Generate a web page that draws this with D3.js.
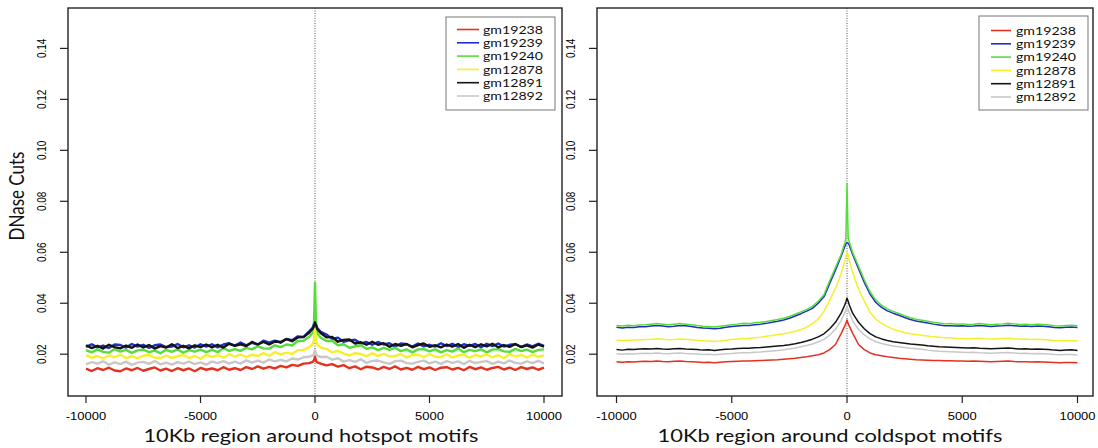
<!DOCTYPE html>
<html><head><meta charset="utf-8">
<script src="https://cdn.jsdelivr.net/npm/d3@7"></script>
<style>body{margin:0;background:#fff;} svg{display:block;}</style>
</head><body>
<svg id="chart" width="1098" height="448"></svg>
<script>
// ---------- DATA ----------
const positions = [-10000,-9750,-9500,-9250,-9000,-8750,-8500,-8250,-8000,-7750,-7500,-7250,-7000,-6750,-6500,-6250,-6000,-5750,-5500,-5250,-5000,-4750,-4500,-4250,-4000,-3750,-3500,-3250,-3000,-2750,-2500,-2250,-2000,-1750,-1500,-1250,-1000,-750,-500,-250,-100,-50,0,50,100,250,500,750,1000,1250,1500,1750,2000,2250,2500,2750,3000,3250,3500,3750,4000,4250,4500,4750,5000,5250,5500,5750,6000,6250,6500,6750,7000,7250,7500,7750,8000,8250,8500,8750,9000,9250,9500,9750,10000];

const sampleNames = ["gm19238","gm19239","gm19240","gm12878","gm12891","gm12892"];

// hotspot panel
const hot_gm19238 = [0.0143,0.0134,0.0145,0.0138,0.0147,0.0136,0.0133,0.0144,0.0137,0.0146,0.0135,0.0142,0.0148,0.0136,0.0143,0.0134,0.0145,0.0137,0.0144,0.0133,0.0146,0.0139,0.0144,0.0137,0.0149,0.0139,0.0145,0.0138,0.0149,0.0142,0.0152,0.0143,0.0150,0.0144,0.0154,0.0148,0.0158,0.0154,0.0163,
 0.0165,0.0170,0.0175,0.0190,0.0173,0.0168,0.0163,
 0.0156,0.0161,0.0151,0.0157,0.0145,0.0152,0.0141,0.0151,0.0148,0.0140,0.0150,0.0142,0.0152,0.0140,0.0146,0.0139,0.0150,0.0141,0.0148,0.0138,0.0147,0.0149,0.0140,0.0146,0.0137,0.0150,0.0141,0.0148,0.0139,0.0146,0.0150,0.0140,0.0147,0.0138,0.0149,0.0142,0.0148,0.0139,0.0147];
const hot_gm19239 = [0.0229,0.0239,0.0227,0.0234,0.0224,0.0238,0.0236,0.0226,0.0240,0.0230,0.0237,0.0225,0.0235,0.0238,0.0228,0.0230,0.0240,0.0227,0.0235,0.0226,0.0239,0.0230,0.0239,0.0227,0.0238,0.0243,0.0234,0.0246,0.0235,0.0245,0.0238,0.0253,0.0245,0.0253,0.0245,0.0260,0.0255,0.0270,0.0268,
 0.0290,0.0305,0.0318,0.0335,0.0315,0.0302,0.0288,
 0.0277,0.0260,0.0265,0.0249,0.0254,0.0257,0.0242,0.0248,0.0237,0.0248,0.0238,0.0243,0.0230,0.0242,0.0239,0.0230,0.0242,0.0231,0.0237,0.0230,0.0243,0.0232,0.0241,0.0228,0.0239,0.0233,0.0240,0.0227,0.0241,0.0232,0.0242,0.0230,0.0237,0.0239,0.0229,0.0238,0.0231,0.0241,0.0233];
const hot_gm19240 = [0.0216,0.0207,0.0219,0.0209,0.0206,0.0220,0.0210,0.0217,0.0205,0.0215,0.0218,0.0208,0.0214,0.0204,0.0217,0.0209,0.0219,0.0206,0.0216,0.0210,0.0218,0.0208,0.0217,0.0208,0.0224,0.0213,0.0220,0.0213,0.0225,0.0219,0.0231,0.0223,0.0222,0.0235,0.0228,0.0238,0.0234,0.0252,0.0253,
 0.0268,0.0285,0.0298,0.0480,0.0295,0.0282,0.0265,
 0.0252,0.0253,0.0235,0.0239,0.0225,0.0231,0.0235,0.0221,0.0227,0.0216,0.0225,0.0217,0.0225,0.0212,0.0219,0.0207,0.0219,0.0220,0.0211,0.0219,0.0207,0.0216,0.0210,0.0222,0.0208,0.0217,0.0212,0.0219,0.0207,0.0218,0.0220,0.0211,0.0209,0.0221,0.0212,0.0218,0.0208,0.0217,0.0219];
const hot_gm12878 = [0.0196,0.0186,0.0193,0.0183,0.0195,0.0188,0.0198,0.0185,0.0192,0.0184,0.0194,0.0197,0.0187,0.0184,0.0195,0.0186,0.0192,0.0197,0.0185,0.0193,0.0182,0.0197,0.0189,0.0196,0.0186,0.0200,0.0190,0.0199,0.0188,0.0198,0.0193,0.0204,0.0194,0.0208,0.0199,0.0206,0.0201,0.0216,0.0216,
 0.0228,0.0240,0.0255,0.0300,0.0252,0.0238,0.0226,
 0.0221,0.0207,0.0213,0.0202,0.0195,0.0204,0.0201,0.0192,0.0204,0.0193,0.0201,0.0191,0.0193,0.0200,0.0187,0.0196,0.0198,0.0188,0.0201,0.0190,0.0189,0.0199,0.0187,0.0195,0.0198,0.0186,0.0197,0.0191,0.0199,0.0188,0.0196,0.0185,0.0200,0.0191,0.0197,0.0187,0.0198,0.0190,0.0195];
const hot_gm12891 = [0.0235,0.0224,0.0233,0.0222,0.0237,0.0228,0.0223,0.0234,0.0225,0.0238,0.0227,0.0236,0.0222,0.0232,0.0226,0.0239,0.0224,0.0233,0.0223,0.0235,0.0228,0.0238,0.0227,0.0237,0.0226,0.0241,0.0233,0.0239,0.0232,0.0248,0.0238,0.0248,0.0238,0.0250,0.0248,0.0259,0.0251,0.0266,0.0267,
 0.0285,0.0300,0.0310,0.0325,0.0312,0.0298,0.0283,
 0.0266,0.0268,0.0249,0.0256,0.0258,0.0242,0.0247,0.0237,0.0249,0.0237,0.0243,0.0229,0.0240,0.0233,0.0240,0.0227,0.0236,0.0242,0.0229,0.0235,0.0227,0.0238,0.0230,0.0240,0.0225,0.0237,0.0228,0.0239,0.0231,0.0241,0.0227,0.0236,0.0229,0.0240,0.0228,0.0235,0.0226,0.0238,0.0230];
const hot_gm12892 = [0.0160,0.0169,0.0163,0.0172,0.0159,0.0168,0.0161,0.0171,0.0158,0.0167,0.0170,0.0162,0.0173,0.0160,0.0167,0.0159,0.0169,0.0163,0.0171,0.0161,0.0168,0.0159,0.0171,0.0165,0.0173,0.0163,0.0171,0.0163,0.0176,0.0167,0.0175,0.0167,0.0179,0.0172,0.0178,0.0172,0.0183,0.0179,0.0188,
 0.0190,0.0195,0.0200,0.0215,0.0198,0.0194,0.0189,
 0.0190,0.0179,0.0184,0.0171,0.0177,0.0170,0.0180,0.0166,0.0174,0.0175,0.0168,0.0162,0.0173,0.0175,0.0165,0.0163,0.0170,0.0175,0.0164,0.0171,0.0162,0.0173,0.0166,0.0172,0.0161,0.0174,0.0165,0.0170,0.0173,0.0162,0.0171,0.0164,0.0175,0.0166,0.0163,0.0172,0.0165,0.0174,0.0164];

// coldspot panel
const cold_gm19238 = [0.0170,0.0168,0.0170,0.0169,0.0171,0.0172,0.0171,0.0173,0.0171,0.0170,0.0172,0.0173,0.0171,0.0170,0.0169,0.0167,0.0168,0.0166,0.0168,0.0170,0.0171,0.0172,0.0173,0.0173,0.0174,0.0175,0.0176,0.0177,0.0178,0.0180,0.0182,0.0184,0.0187,0.0190,0.0194,0.0198,0.0205,0.0218,0.0238,
 0.0282,0.0310,0.0320,0.0334,0.0320,0.0310,0.0282,
 0.0238,0.0218,0.0205,0.0198,0.0194,0.0190,0.0187,0.0184,0.0182,0.0180,0.0178,0.0177,0.0176,0.0175,0.0175,0.0174,0.0174,0.0173,0.0173,0.0172,0.0173,0.0172,0.0171,0.0170,0.0171,0.0172,0.0173,0.0171,0.0170,0.0170,0.0169,0.0170,0.0169,0.0168,0.0167,0.0166,0.0167,0.0167,0.0166];
const cold_gm19239 = [0.0306,0.0303,0.0306,0.0305,0.0308,0.0308,0.0311,0.0313,0.0311,0.0308,0.0310,0.0313,0.0312,0.0309,0.0305,0.0303,0.0302,0.0300,0.0302,0.0306,0.0309,0.0311,0.0313,0.0313,0.0316,0.0318,0.0321,0.0325,0.0329,0.0334,0.0341,0.0350,0.0359,0.0369,0.0380,0.0400,0.0425,0.0478,0.0530,
 0.0585,0.0622,0.0632,0.0638,0.0636,0.0628,0.0590,
 0.0535,0.0482,0.0436,0.0403,0.0384,0.0370,0.0361,0.0353,0.0344,0.0336,0.0330,0.0326,0.0322,0.0318,0.0315,0.0312,0.0312,0.0311,0.0312,0.0310,0.0311,0.0313,0.0311,0.0309,0.0311,0.0312,0.0314,0.0312,0.0310,0.0311,0.0309,0.0311,0.0310,0.0308,0.0305,0.0304,0.0306,0.0307,0.0305];
const cold_gm19240 = [0.0313,0.0311,0.0314,0.0312,0.0315,0.0316,0.0318,0.0320,0.0318,0.0316,0.0318,0.0320,0.0318,0.0316,0.0313,0.0310,0.0309,0.0307,0.0310,0.0313,0.0316,0.0318,0.0321,0.0320,0.0323,0.0325,0.0328,0.0332,0.0336,0.0341,0.0348,0.0357,0.0366,0.0376,0.0388,0.0408,0.0433,0.0488,0.0540,
 0.0592,0.0635,0.0652,0.0870,0.0660,0.0640,0.0598,
 0.0545,0.0492,0.0445,0.0412,0.0392,0.0378,0.0368,0.0360,0.0351,0.0343,0.0337,0.0333,0.0329,0.0325,0.0322,0.0319,0.0320,0.0318,0.0319,0.0317,0.0318,0.0320,0.0318,0.0316,0.0318,0.0319,0.0321,0.0319,0.0317,0.0318,0.0316,0.0318,0.0317,0.0315,0.0312,0.0311,0.0313,0.0314,0.0312];
const cold_gm12878 = [0.0256,0.0254,0.0255,0.0256,0.0257,0.0258,0.0259,0.0261,0.0259,0.0257,0.0258,0.0260,0.0259,0.0257,0.0255,0.0253,0.0252,0.0250,0.0252,0.0255,0.0258,0.0260,0.0262,0.0263,0.0265,0.0267,0.0270,0.0273,0.0277,0.0280,0.0284,0.0290,0.0297,0.0306,0.0320,0.0338,0.0368,0.0412,0.0458,
 0.0518,0.0565,0.0585,0.0600,0.0588,0.0568,0.0520,
 0.0455,0.0408,0.0365,0.0338,0.0321,0.0308,0.0298,0.0291,0.0285,0.0280,0.0277,0.0274,0.0271,0.0268,0.0267,0.0265,0.0265,0.0263,0.0262,0.0261,0.0262,0.0263,0.0261,0.0260,0.0261,0.0262,0.0263,0.0261,0.0259,0.0260,0.0258,0.0259,0.0258,0.0256,0.0254,0.0253,0.0254,0.0253,0.0252];
const cold_gm12891 = [0.0218,0.0216,0.0219,0.0218,0.0220,0.0221,0.0220,0.0222,0.0220,0.0219,0.0221,0.0222,0.0220,0.0219,0.0218,0.0216,0.0217,0.0215,0.0217,0.0219,0.0220,0.0222,0.0223,0.0223,0.0225,0.0226,0.0228,0.0230,0.0232,0.0234,0.0237,0.0241,0.0246,0.0252,0.0259,0.0268,0.0280,0.0300,0.0325,
 0.0362,0.0392,0.0405,0.0420,0.0408,0.0393,0.0360,
 0.0325,0.0300,0.0281,0.0268,0.0260,0.0254,0.0249,0.0246,0.0243,0.0240,0.0238,0.0236,0.0233,0.0231,0.0229,0.0228,0.0227,0.0226,0.0225,0.0224,0.0225,0.0223,0.0222,0.0221,0.0222,0.0223,0.0224,0.0222,0.0220,0.0221,0.0219,0.0220,0.0219,0.0218,0.0216,0.0215,0.0216,0.0217,0.0215];
const cold_gm12892 = [0.0202,0.0200,0.0202,0.0201,0.0203,0.0204,0.0203,0.0205,0.0203,0.0202,0.0204,0.0205,0.0203,0.0202,0.0201,0.0199,0.0200,0.0198,0.0200,0.0202,0.0203,0.0205,0.0206,0.0206,0.0208,0.0209,0.0211,0.0213,0.0215,0.0217,0.0220,0.0224,0.0229,0.0234,0.0240,0.0248,0.0258,0.0275,0.0298,
 0.0332,0.0362,0.0375,0.0386,0.0376,0.0362,0.0330,
 0.0297,0.0276,0.0260,0.0249,0.0242,0.0237,0.0232,0.0229,0.0226,0.0223,0.0221,0.0219,0.0216,0.0214,0.0212,0.0211,0.0210,0.0209,0.0208,0.0207,0.0208,0.0206,0.0205,0.0204,0.0205,0.0206,0.0207,0.0205,0.0203,0.0204,0.0202,0.0203,0.0202,0.0201,0.0199,0.0198,0.0199,0.0199,0.0197];

const xTickValues = [-10000, -5000, 0, 5000, 10000];
const xTickLabels = ["-10000", "-5000", "0", "5000", "10000"];
const yTickValues = [0.02, 0.04, 0.06, 0.08, 0.10, 0.12, 0.14];
const yTickLabels = ["0.02", "0.04", "0.06", "0.08", "0.10", "0.12", "0.14"];
const panelTitles = ["10Kb region around hotspot motifs", "10Kb region around coldspot motifs"];
const yAxisTitle = "DNase Cuts";

// ---------- STYLE / LAYOUT ----------
const colors = ["#e3321f", "#1f30c6", "#57dd3b", "#f6ef2e", "#141414", "#c8c8c8"];
const plotTop = 8, plotBottom = 396;
const panels = [
  { box: [68, 562], xr: [86, 544], series: [hot_gm19238, hot_gm19239, hot_gm19240, hot_gm12878, hot_gm12891, hot_gm12892],
    title: panelTitles[0], titleX: 311, titleW: 335, lw: 2.4,
    legend: { x0: 446, x1: 555, y0: 17, y1: 110, lx0: 457, lx1: 479, tx: 483, ry: 29.5 } },
  { box: [597, 1093], xr: [616.5, 1077.5], series: [cold_gm19238, cold_gm19239, cold_gm19240, cold_gm12878, cold_gm12891, cold_gm12892],
    title: panelTitles[1], titleX: 830, titleW: 345, lw: 1.5,
    legend: { x0: 979, x1: 1088, y0: 16, y1: 110, lx0: 991, lx1: 1011, tx: 1016, ry: 30.5 } }
];
const rowH = 13.3;

const svg = d3.select("#chart");
svg.append("rect").attr("width", 1098).attr("height", 448).attr("fill", "#fff");

const y = d3.scaleLinear().domain([0.02, 0.14]).range([354.2, 48.4]);

panels.forEach((p, pi) => {
  const x = d3.scaleLinear().domain([-10000, 10000]).range(p.xr);
  const g = svg.append("g");

  const clipId = "clip" + pi;
  svg.append("clipPath").attr("id", clipId).append("rect")
    .attr("x", p.box[0]).attr("y", plotTop).attr("width", p.box[1] - p.box[0]).attr("height", plotBottom - plotTop);

  // dotted line at 0
  g.append("line").attr("x1", x(0)).attr("x2", x(0)).attr("y1", plotTop).attr("y2", plotBottom)
    .attr("stroke", "#555").attr("stroke-width", 1).attr("stroke-dasharray", "1,1.5");

  // series
  const line = d3.line().x((d, i) => x(positions[i])).y(d => y(d));
  const lg = g.append("g").attr("clip-path", `url(#${clipId})`);
  p.series.forEach((s, si) => {
    lg.append("path").datum(s).attr("d", line).attr("fill", "none")
      .attr("stroke", colors[si]).attr("stroke-width", p.lw).attr("stroke-linejoin", "round");
  });

  // box
  g.append("rect").attr("x", p.box[0]).attr("y", plotTop).attr("width", p.box[1] - p.box[0]).attr("height", plotBottom - plotTop)
    .attr("fill", "none").attr("stroke", "#222").attr("stroke-width", 1.4);

  // x axis
  const xa = g.append("g");
  xTickValues.forEach((t, i) => {
    xa.append("line").attr("x1", x(t)).attr("x2", x(t)).attr("y1", plotBottom).attr("y2", plotBottom + 7)
      .attr("stroke", "#222").attr("stroke-width", 1.2);
    xa.append("text").attr("transform", `translate(${x(t)},${420}) scale(1.3,1)`)
      .attr("text-anchor", "middle").attr("font-family", "Liberation Sans, Arial, sans-serif")
      .attr("font-size", 10).attr("fill", "#000").text(xTickLabels[i]);
  });
  // y axis
  const ya = g.append("g");
  yTickValues.forEach((t, i) => {
    ya.append("line").attr("x1", p.box[0] - 8).attr("x2", p.box[0]).attr("y1", y(t)).attr("y2", y(t))
      .attr("stroke", "#222").attr("stroke-width", 1.2);
    ya.append("text").attr("transform", `translate(${p.box[0] - 22},${y(t)}) scale(1.3,1) rotate(-90)`)
      .attr("text-anchor", "middle").attr("font-family", "Liberation Sans, Arial, sans-serif")
      .attr("font-size", 10).attr("fill", "#000").text(yTickLabels[i]);
  });

  // title
  g.append("text").attr("x", p.titleX).attr("y", 442).attr("text-anchor", "middle")
    .attr("font-family", "Lato, sans-serif").attr("font-size", 17).attr("fill", "#111")
    .attr("textLength", p.titleW).attr("lengthAdjust", "spacingAndGlyphs").text(p.title);

  // legend
  const L = p.legend;
  g.append("rect").attr("x", L.x0).attr("y", L.y0).attr("width", L.x1 - L.x0).attr("height", L.y1 - L.y0)
    .attr("fill", "#fff").attr("stroke", "#777").attr("stroke-width", 1);
  sampleNames.forEach((n, i) => {
    const yy = L.ry + i * rowH;
    g.append("line").attr("x1", L.lx0).attr("x2", L.lx1).attr("y1", yy).attr("y2", yy)
      .attr("stroke", colors[i]).attr("stroke-width", 1.6);
    g.append("text").attr("x", L.tx).attr("y", yy + 4.3).attr("font-family", "Lato, sans-serif")
      .attr("font-size", 12).attr("fill", "#111").attr("textLength", 60).attr("lengthAdjust", "spacingAndGlyphs").text(n);
  });
});

// y axis title
svg.append("text").attr("transform", "translate(24,196) scale(1.2,1) rotate(-90)")
  .attr("text-anchor", "middle").attr("font-family", "Lato, sans-serif").attr("font-size", 17).attr("fill", "#111")
  .text(yAxisTitle);
</script>
</body></html>
